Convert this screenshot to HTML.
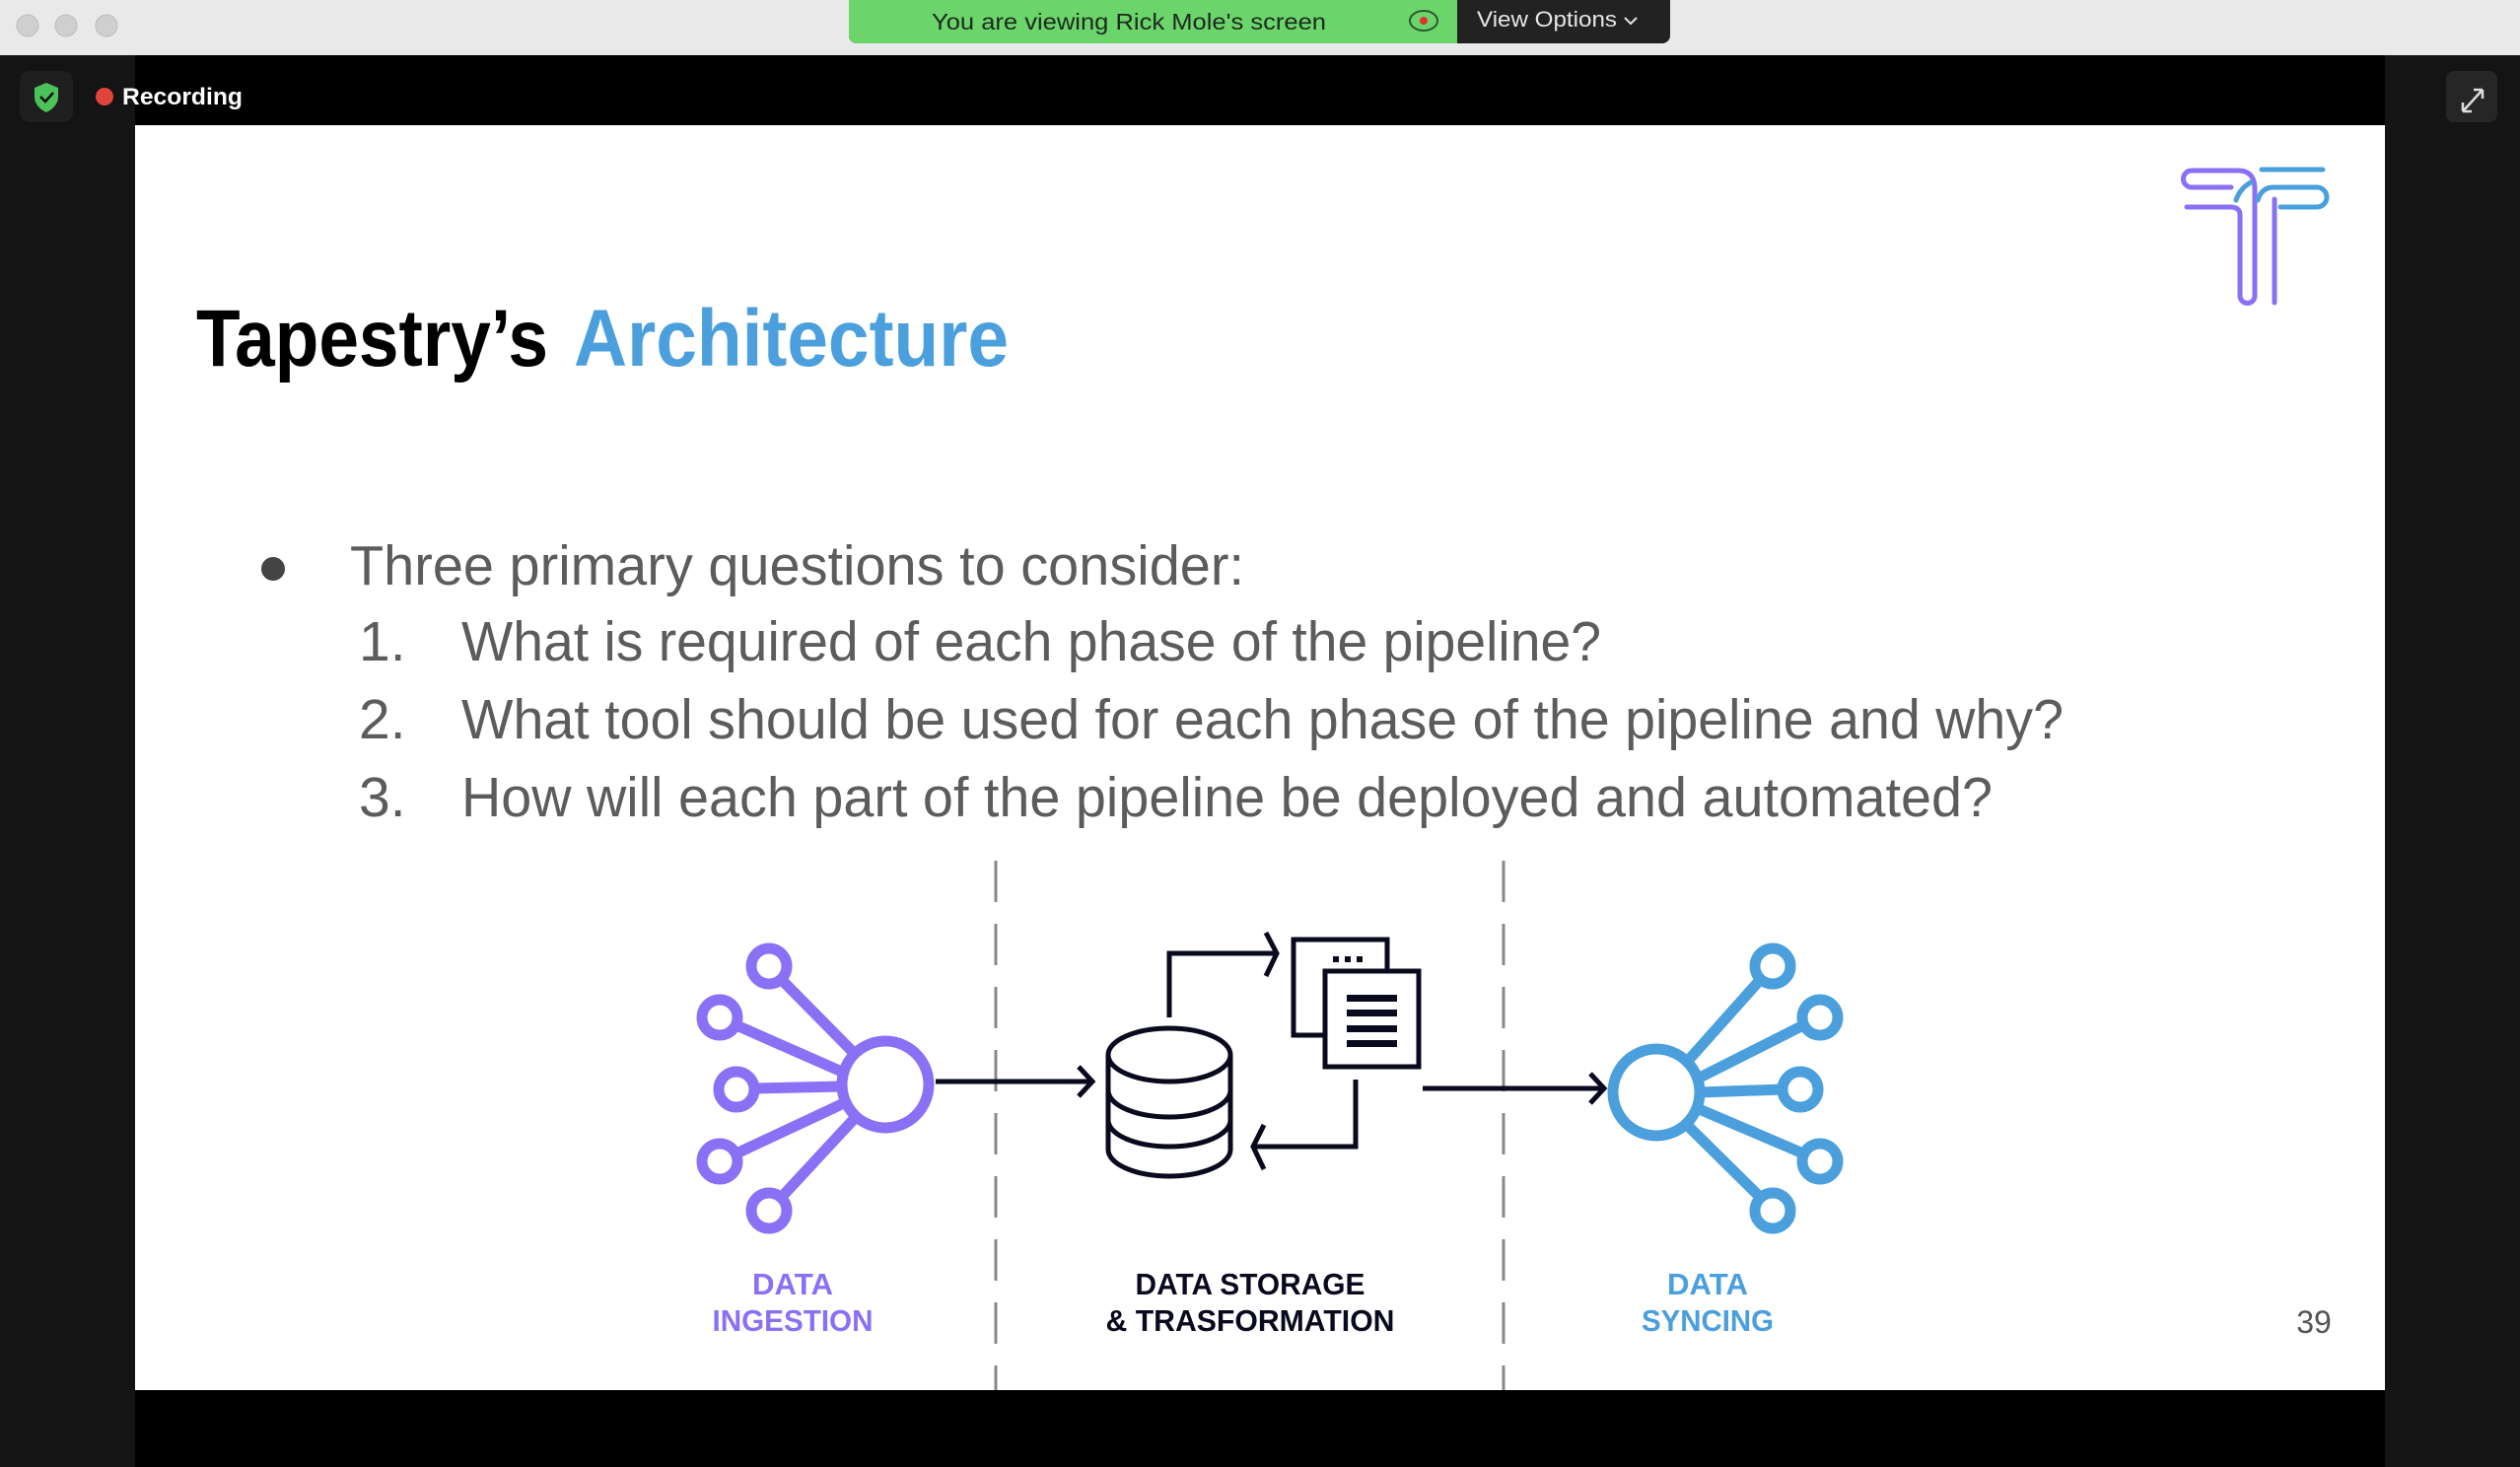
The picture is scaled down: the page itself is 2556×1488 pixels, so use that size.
<!DOCTYPE html>
<html><head><meta charset="utf-8"><style>
html,body{margin:0;padding:0;background:#000;}
svg{display:block}
text{font-family:"Liberation Sans",Arial,sans-serif}
</style></head><body>
<svg width="2556" height="1488" viewBox="0 0 2556 1488" xmlns="http://www.w3.org/2000/svg">
<rect x="0" y="0" width="2556" height="56" fill="#e8e9e8"/>
<circle cx="28" cy="26" r="11" fill="#cfcfcf" stroke="#bdbdbd"/>
<circle cx="67" cy="26" r="11" fill="#cfcfcf" stroke="#bdbdbd"/>
<circle cx="108" cy="26" r="11" fill="#cfcfcf" stroke="#bdbdbd"/>
<rect x="861" y="-10" width="833" height="54" rx="8" fill="#222"/>
<path d="M861,0 H1478 V44 H869 A8,8 0 0 1 861,36 Z" fill="#6bd46b"/>
<text x="1145" y="30" font-size="23" fill="#1d2a1d" text-anchor="middle" textLength="400" lengthAdjust="spacingAndGlyphs">You are viewing Rick Mole's screen</text>
<ellipse cx="1444" cy="21" rx="14" ry="10" fill="none" stroke="#2a5a2a" stroke-width="2"/>
<circle cx="1444" cy="21" r="4" fill="#d33"/>
<text x="1498" y="27" font-size="22" fill="#e6e6e6" textLength="142" lengthAdjust="spacingAndGlyphs">View Options</text>
<path d="M1648,18 l6,6 l6,-6" fill="none" stroke="#e6e6e6" stroke-width="2"/>
<rect x="0" y="56" width="2556" height="1432" fill="#000"/>
<rect x="0" y="56" width="137" height="1432" fill="#141414"/>
<rect x="2419" y="56" width="137" height="1432" fill="#141414"/>
<rect x="20" y="72" width="54" height="52" rx="10" fill="#1f1f1f"/>
<path d="M47,84 l12,5 v9 c0,8 -6,13 -12,16 c-6,-3 -12,-8 -12,-16 v-9 z" fill="#4cc25a"/>
<path d="M41,98 l5,5 l8,-9" fill="none" stroke="#111" stroke-width="2.5"/>
<circle cx="106" cy="98" r="9" fill="#e0443a"/>
<text x="124" y="106" font-size="24" font-weight="bold" fill="#fff" textLength="122" lengthAdjust="spacingAndGlyphs">Recording</text>
<rect x="2481" y="72" width="52" height="52" rx="8" fill="#262626"/>
<path d="M2498,113 l20,-22 M2498,113 v-9 M2498,113 h9 M2518,91 h-9 M2518,91 v9" fill="none" stroke="#ddd" stroke-width="2.5"/>
<rect x="137" y="127" width="2282" height="1283" fill="#fff"/>
<g fill="none" stroke-width="5" stroke-linecap="round" stroke-linejoin="round">
<path d="M2263,190 H2223 A8.5,8.5 0 0 1 2223,173 H2270 Q2287,173 2287,192 V300 A7.5,7.5 0 0 1 2272,300 V218 Q2272,210 2262,210 H2218" stroke="#8a70f5"/>
<path d="M2307,202 V307" stroke="#8a70f5"/>
<path d="M2294,172 H2356" stroke="#4a9fdc"/>
<path d="M2290,203 Q2294,190 2306,190 H2350 A10,10 0 0 1 2350,210 H2313" stroke="#4a9fdc"/>
<path d="M2268,203 Q2272,191 2283,185" stroke="#4a9fdc"/>
</g>
<text x="199" y="371" font-size="82" font-weight="bold" fill="#000" textLength="357" lengthAdjust="spacingAndGlyphs">Tapestry’s</text>
<text x="582" y="371" font-size="82" font-weight="bold" fill="#4a9fdc" textLength="441" lengthAdjust="spacingAndGlyphs">Architecture</text>
<circle cx="277" cy="577" r="12" fill="#444"/>
<g font-size="57" fill="#5c5c5c">
<text x="355" y="593" textLength="907" lengthAdjust="spacingAndGlyphs">Three primary questions to consider:</text>
<text x="364" y="670">1.</text>
<text x="468" y="670" textLength="1156" lengthAdjust="spacingAndGlyphs">What is required of each phase of the pipeline?</text>
<text x="364" y="749">2.</text>
<text x="468" y="749" textLength="1625" lengthAdjust="spacingAndGlyphs">What tool should be used for each phase of the pipeline and why?</text>
<text x="364" y="828">3.</text>
<text x="468" y="828" textLength="1553" lengthAdjust="spacingAndGlyphs">How will each part of the pipeline be deployed and automated?</text>
</g>
<g stroke="#888" stroke-width="3" stroke-dasharray="42,22">
<line x1="1010" y1="873" x2="1010" y2="1410"/>
<line x1="1525" y1="873" x2="1525" y2="1410"/>
</g>
<g fill="none" stroke="#8a70f5" stroke-width="11">
<circle cx="898" cy="1100" r="44"/>
<circle cx="780" cy="980" r="18"/>
<circle cx="730" cy="1032" r="18"/>
<circle cx="747" cy="1105" r="18"/>
<circle cx="730" cy="1178" r="18"/>
<circle cx="780" cy="1228" r="18"/>
<line x1="792" y1="993" x2="866" y2="1068"/>
<line x1="747" y1="1040" x2="856" y2="1088"/>
<line x1="765" y1="1104" x2="854" y2="1102"/>
<line x1="747" y1="1170" x2="858" y2="1118"/>
<line x1="792" y1="1215" x2="868" y2="1133"/>
</g>
<g fill="none" stroke="#4a9fdc" stroke-width="11">
<circle cx="1680" cy="1108" r="44"/>
<circle cx="1798" cy="980" r="18"/>
<circle cx="1846" cy="1032" r="18"/>
<circle cx="1826" cy="1105" r="18"/>
<circle cx="1846" cy="1178" r="18"/>
<circle cx="1798" cy="1228" r="18"/>
<line x1="1786" y1="993" x2="1712" y2="1076"/>
<line x1="1829" y1="1040" x2="1722" y2="1094"/>
<line x1="1808" y1="1105" x2="1724" y2="1108"/>
<line x1="1829" y1="1170" x2="1721" y2="1124"/>
<line x1="1786" y1="1215" x2="1710" y2="1140"/>
</g>
<g fill="none" stroke="#0a0a1e" stroke-width="5">
<line x1="949" y1="1097" x2="1106" y2="1097"/>
<path d="M1094,1082 L1108,1097 L1094,1112"/>
<line x1="1443" y1="1104" x2="1625" y2="1104"/>
<path d="M1613,1089 L1627,1104 L1613,1119"/>
<ellipse cx="1186" cy="1070" rx="62" ry="27"/>
<path d="M1124,1070 V1166 A62,27 0 0 0 1248,1166 V1070"/>
<path d="M1124,1106 A62,27 0 0 0 1248,1106"/>
<path d="M1124,1136 A62,27 0 0 0 1248,1136"/>
<path d="M1186,1032 V967 H1292"/>
<path d="M1284,946 L1295,967 L1284,990"/>
<path d="M1375,1095 V1163 H1272"/>
<path d="M1282,1141 L1271,1163 L1282,1186"/>
<rect x="1312" y="953" width="95" height="97" fill="#fff"/>
<rect x="1344" y="985" width="95" height="97" fill="#fff"/>
</g>
<g fill="#0a0a1e">
<rect x="1352" y="970" width="6" height="6"/><rect x="1364" y="970" width="6" height="6"/><rect x="1376" y="970" width="6" height="6"/>
<rect x="1366" y="1009" width="51" height="7"/>
<rect x="1366" y="1024" width="51" height="7"/>
<rect x="1366" y="1040" width="51" height="7"/>
<rect x="1366" y="1055" width="51" height="7"/>
</g>
<g font-size="31" font-weight="bold" text-anchor="middle">
<text x="804" y="1313" fill="#8a70f5" textLength="82" lengthAdjust="spacingAndGlyphs">DATA</text>
<text x="804" y="1350" fill="#8a70f5" textLength="163" lengthAdjust="spacingAndGlyphs">INGESTION</text>
<text x="1268" y="1313" fill="#0a0a1e" textLength="233" lengthAdjust="spacingAndGlyphs">DATA STORAGE</text>
<text x="1268" y="1350" fill="#0a0a1e" textLength="293" lengthAdjust="spacingAndGlyphs">&amp; TRASFORMATION</text>
<text x="1732" y="1313" fill="#4a9fdc" textLength="82" lengthAdjust="spacingAndGlyphs">DATA</text>
<text x="1732" y="1350" fill="#4a9fdc" textLength="134" lengthAdjust="spacingAndGlyphs">SYNCING</text>
</g>
<text x="2347" y="1352" font-size="32" fill="#555" text-anchor="middle">39</text>
</svg>
</body></html>
